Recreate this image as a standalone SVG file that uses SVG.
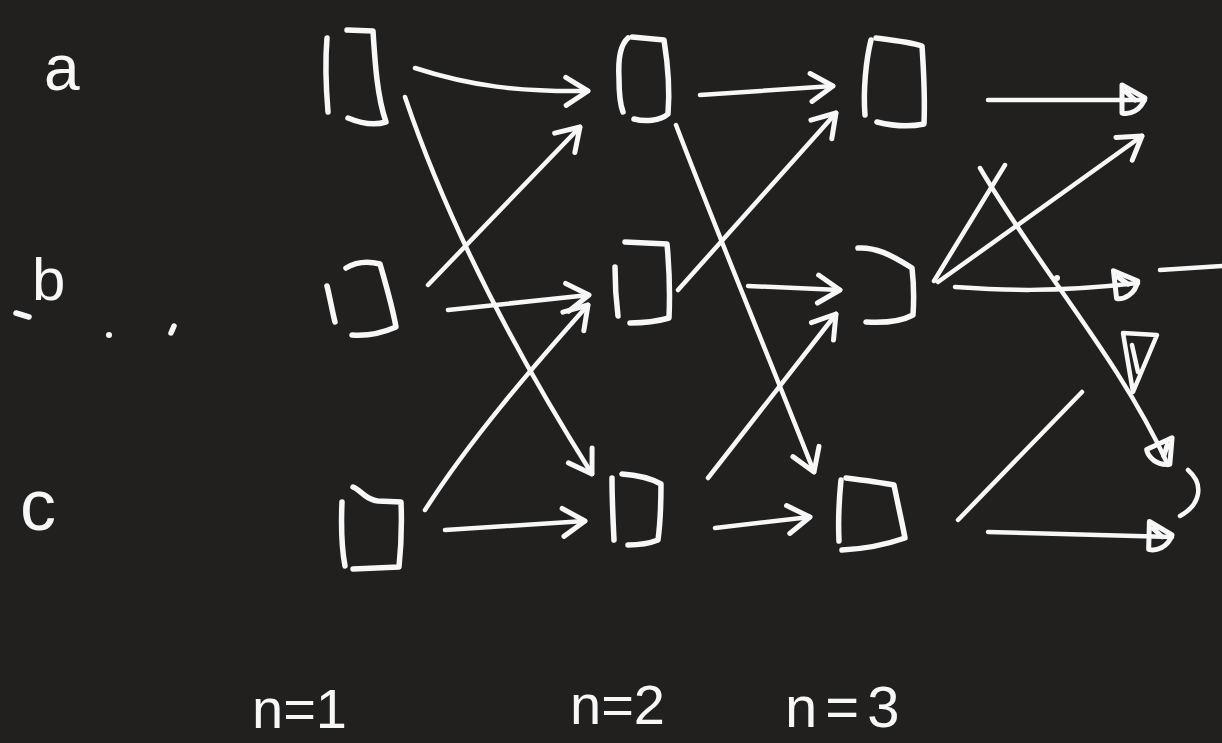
<svg xmlns="http://www.w3.org/2000/svg" width="1222" height="743" viewBox="0 0 1222 743">
<defs>
<style>
.s{fill:none;stroke:#f7f7f7;stroke-width:5.5;stroke-linecap:round;stroke-linejoin:round}
.c{fill:none;stroke:#f7f7f7;stroke-width:4.5;stroke-linecap:round;stroke-linejoin:round}
.t{fill:#f7f7f7;font-family:"Liberation Sans",Arial,sans-serif}
</style>
<marker id="ah" viewBox="0 0 34 34" refX="28" refY="17" markerWidth="34" markerHeight="34" markerUnits="userSpaceOnUse" orient="auto" overflow="visible">
<path d="M6,3 L28,17 L6,31" fill="none" stroke="#f7f7f7" stroke-width="5" stroke-linecap="round" stroke-linejoin="round"/>
</marker>
<marker id="tri" viewBox="0 0 34 34" refX="28" refY="17" markerWidth="34" markerHeight="34" markerUnits="userSpaceOnUse" orient="auto" overflow="visible">
<path d="M5,2 L28,15 C24,28 12,32 5,30 Z M9,9 L18,17" fill="none" stroke="#f7f7f7" stroke-width="5" stroke-linecap="round" stroke-linejoin="round"/>
</marker>
</defs>
<rect width="1222" height="743" fill="#21201f"/>

<g id="labels">
<text class="t" x="44" y="90" font-size="64">a</text>
<text class="t" x="32" y="300" font-size="60">b</text>
<text class="t" x="20" y="530" font-size="72">c</text>
<path class="s" d="M16,313 L29,317"/>
<circle cx="109" cy="335" r="3" fill="#f7f7f7"/>
<path class="s" d="M174,326 L171,333"/>
<text class="t" x="252" y="728" font-size="56">n=1</text>
<text class="t" x="570" y="724" font-size="56">n=2</text>
<text class="t" x="785" y="727" font-size="58" letter-spacing="8">n=3</text>
</g>

<g id="node-a1">
<path class="s" d="M327,38 C325,62 326,88 328,112"/>
<path class="s" d="M347,30 L373,31 C375,62 377,96 386,122 C373,126 360,123 348,118"/>
</g>
<g id="node-b1">
<path class="s" d="M327,286 C330,298 332,310 335,322"/>
<path class="s" d="M346,268 C356,262 368,261 380,264 C386,285 392,305 396,327 C380,334 365,336 352,335"/>
</g>
<g id="node-c1">
<path class="s" d="M342,502 C341,525 342,550 345,566"/>
<path class="s" d="M353,487 C362,491 366,500 378,501 L401,502 C402,526 401,548 399,567 L353,569"/>
</g>
<g id="node-a2">
<path class="s" d="M628,38 C620,45 618,60 619,78 C619,95 620,104 623,112"/>
<path class="s" d="M632,37 L664,40 C668,65 670,90 668,114 C660,121 645,122 634,119"/>
</g>
<g id="node-b2">
<path class="s" d="M615,267 C615,285 616,300 618,316"/>
<path class="s" d="M625,242 L667,244 C669,265 670,295 669,318 C655,322 642,323 630,323"/>
</g>
<g id="node-c2">
<path class="s" d="M612,478 C612,498 613,520 614,540"/>
<path class="s" d="M622,474 C638,475 652,479 661,484 C661,505 660,525 658,540 C648,544 638,545 628,545"/>
</g>
<g id="node-a3">
<path class="s" d="M871,40 C866,60 863,90 865,115"/>
<path class="s" d="M876,38 C892,40 910,42 922,46 C924,75 925,100 924,124 C910,127 893,126 877,122"/>
</g>
<g id="node-b3">
<path class="s" d="M858,248 C875,247 890,254 912,268 C914,285 914,300 913,315 C900,322 882,323 866,322"/>
</g>
<g id="node-c3">
<path class="s" d="M841,480 C839,500 838,520 839,541"/>
<path class="s" d="M846,478 C862,480 878,482 894,485 C898,505 902,522 905,538 C885,545 862,549 842,550"/>
</g>

<g id="connectors">
<path class="c" d="M415,68 C470,86 520,92 588,91" marker-end="url(#ah)"/>
<path class="c" d="M405,97 C450,230 520,360 592,474" marker-end="url(#ah)"/>
<path class="c" d="M428,285 L580,127" marker-end="url(#ah)"/>
<path class="c" d="M448,310 L589,295" marker-end="url(#ah)"/>
<path class="c" d="M425,510 C470,440 530,370 588,305" marker-end="url(#ah)"/>
<path class="c" d="M445,530 L585,521" marker-end="url(#ah)"/>
<path class="c" d="M700,95 L833,86" marker-end="url(#ah)"/>
<path class="c" d="M676,125 C720,240 770,360 814,472" marker-end="url(#ah)"/>
<path class="c" d="M678,290 L836,113" marker-end="url(#ah)"/>
<path class="c" d="M748,286 L840,290" marker-end="url(#ah)"/>
<path class="c" d="M708,478 L836,314" marker-end="url(#ah)"/>
<path class="c" d="M715,528 L810,517" marker-end="url(#ah)"/>
<path class="c" d="M988,100 L1145,100" marker-end="url(#tri)"/>
<path class="c" d="M938,282 L1142,136" marker-end="url(#ah)"/>
<path class="c" d="M1005,165 L934,281"/>
<path class="c" d="M980,168 C1040,270 1120,360 1168,465" marker-end="url(#tri)"/>
<path class="c" d="M955,287 C1000,290 1050,293 1138,283" marker-end="url(#tri)"/>
<path class="c" d="M1160,270 L1222,266"/>
<path class="c" d="M958,520 L1082,392"/>
<path class="c" d="M1123,333 L1157,335 L1133,392 Z M1132,345 L1138,372"/>
<path class="c" d="M988,532 L1172,537" marker-end="url(#tri)"/>
<path class="c" d="M1188,470 C1205,485 1200,505 1180,516"/>
<circle cx="1057" cy="278" r="3" fill="#f7f7f7"/>
</g>
</svg>
